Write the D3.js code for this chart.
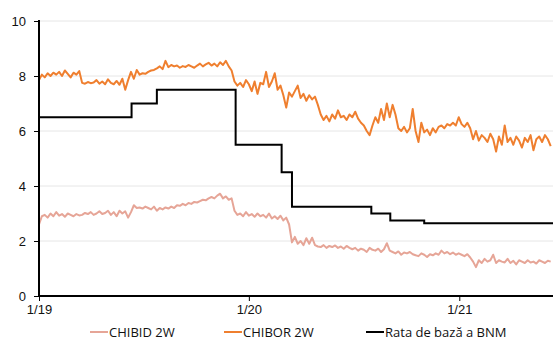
<!DOCTYPE html>
<html>
<head>
<meta charset="utf-8">
<script src="https://cdn.jsdelivr.net/npm/d3@7"></script>
<style>
  html, body { margin: 0; padding: 0; background: #fff; }
  svg { display: block; font-family: "Open Sans", "Noto Sans", sans-serif; }
</style>
</head>
<body>
<svg id="chart" width="553" height="341"></svg>
<script>
// ---------- DATA ----------
const seriesStart = "2019-01-01";   // first observation
const seriesStepDays = 5;            // observations every 5 days
const axisEnd = "2021-06-13";

// CHIBOR 2W (%)
const chibor = [
  7.85, 8.05, 7.95, 8.10, 8.00, 8.12, 8.05, 8.15, 8.00, 8.20, 8.08, 7.95, 8.12, 8.05, 8.18,           // 0-14
  7.75, 7.72, 7.78, 7.74, 7.76, 7.85, 7.72, 7.80, 7.70, 7.88, 7.75, 7.70, 7.82, 7.68, 7.90, 7.50,     // 15-30
  7.85, 8.15, 7.90, 8.22, 8.05, 8.10, 8.08, 8.15, 8.20, 8.22,                                         // 31-40
  8.28, 8.35, 8.25, 8.55, 8.32, 8.40, 8.35, 8.38, 8.30, 8.36, 8.33, 8.40, 8.35, 8.30, 8.38, 8.45,     // 41-56
  8.35, 8.42, 8.48, 8.38, 8.45, 8.35, 8.50, 8.40, 8.55, 8.35, 8.20,                                   // 57-67
  7.80, 7.65, 7.75, 7.60, 7.85, 7.70, 7.45, 7.80, 7.35, 7.75,                                         // 68-77
  7.70, 8.15, 7.60, 7.80, 8.10, 7.50, 7.65,                                                           // 78-84
  7.30, 6.85, 7.40, 7.25, 7.45, 7.65, 7.20,                                                           // 85-91
  7.35, 7.10, 7.30, 7.15, 7.25, 6.95,                                                                 // 92-97
  6.60, 6.40, 6.55, 6.35,                                                                             // 98-101
  6.60, 6.45, 6.75, 6.50, 6.55, 6.40, 6.60, 6.50, 6.70, 6.45,                                         // 102-111
  6.30, 6.20, 6.00, 5.85, 6.20,                                                                       // 112-116
  6.50, 6.30, 6.80, 6.40, 7.00, 6.50, 6.95, 6.60,                                                     // 117-124
  6.10, 6.00, 6.15, 5.95, 6.10, 6.80, 6.00,                                                           // 125-131
  5.60, 6.30, 5.95, 6.05, 5.85, 6.10, 5.95, 6.15,                                                     // 132-139
  6.20, 6.10, 6.25, 6.20, 6.30, 6.20, 6.50, 6.25, 6.15, 6.30, 6.10,                                   // 140-150
  5.70, 6.00, 5.65, 5.85, 5.75, 5.60, 5.90,                                                           // 151-157
  5.70, 5.25, 5.80, 5.50, 6.20, 5.60,                                                                 // 158-163
  5.75, 5.50, 5.80, 5.65, 5.40, 5.75, 5.60, 5.85, 5.30, 5.70, 5.80, 5.60, 5.85, 5.70, 5.45            // 164-178
];

// CHIBID 2W (%)
const chibid = [
  2.60, 2.90, 2.95, 2.85, 3.00, 2.90, 3.05, 2.92, 2.98, 2.88, 3.00, 2.95, 2.90, 2.98, 2.93, 2.95,     // 0-15
  3.02, 2.98, 3.05, 2.95, 3.00, 3.08, 2.98, 3.02, 3.10, 2.95, 3.05, 2.90, 3.10, 3.00, 3.08, 2.85, 3.05, // 16-32
  3.30, 3.20, 3.22, 3.18, 3.25, 3.20, 3.15, 3.25, 3.10, 3.20, 3.15, 3.22,                             // 33-44
  3.18, 3.25, 3.20, 3.30, 3.28, 3.35, 3.30, 3.38, 3.35, 3.42, 3.40, 3.45,                             // 45-56
  3.50, 3.48, 3.55, 3.60, 3.55, 3.65, 3.72,                                                           // 57-63
  3.55, 3.62, 3.50, 3.55,                                                                             // 64-67
  3.10, 2.95, 3.00, 2.90, 3.05, 2.92, 2.98, 2.88, 3.00, 2.90, 2.95, 2.85, 3.00, 2.82, 2.90, 2.80,     // 68-83
  2.92, 2.75, 2.85, 2.60,                                                                             // 84-87
  1.95, 2.15, 1.90, 2.00, 1.85, 2.10, 1.90, 2.12, 1.85,                                               // 88-96
  1.80, 1.78, 1.85, 1.75, 1.82, 1.78, 1.84, 1.75, 1.80, 1.72, 1.82, 1.75,                             // 97-108
  1.70, 1.75, 1.65, 1.72, 1.68, 1.60, 1.75, 1.68, 1.65, 1.72, 1.60, 1.70, 1.92, 1.65,                 // 109-122
  1.60, 1.55, 1.62, 1.50, 1.58, 1.55, 1.60, 1.52, 1.48,                                               // 123-131
  1.45, 1.55, 1.50, 1.42, 1.52, 1.48, 1.55, 1.50,                                                     // 132-139
  1.65, 1.55, 1.60, 1.52, 1.58, 1.50, 1.55, 1.50, 1.45, 1.52, 1.40,                                   // 140-150
  1.25, 1.05, 1.30, 1.20, 1.35, 1.25, 1.30, 1.50, 1.20, 1.30, 1.25, 1.22, 1.35, 1.20,                 // 151-164
  1.28, 1.15, 1.30, 1.25, 1.20, 1.30, 1.22, 1.25, 1.18, 1.30, 1.25, 1.20, 1.28, 1.25                  // 165-178
];

// BNM base rate (%) - change dates and new values
const rateDates  = ["2019-01-01", "2019-06-11", "2019-07-25", "2019-12-09", "2020-02-27", "2020-03-16", "2020-08-01", "2020-09-03", "2020-11-01", "2021-06-13"];
const rateValues = [6.5, 7.0, 7.5, 5.5, 4.5, 3.25, 3.0, 2.75, 2.65, 2.65];

const yTicks = [0, 2, 4, 6, 8, 10];
const xTickDates = ["2019-01-01", "2020-01-01", "2021-01-01"];
const legendLabels = ["CHIBID 2W", "CHIBOR 2W", "Rata de bază a BNM"];

// ---------- CHART ----------
const parse = d3.utcParse("%Y-%m-%d");
const start = parse(seriesStart);
const dateAt = i => d3.utcDay.offset(start, i * seriesStepDays);

const svg = d3.select("#chart");
const mLeft = 39, mRight = 553, mTop = 21, mBottom = 296;

const x = d3.scaleUtc().domain([start, parse(axisEnd)]).range([mLeft, mRight]);
const y = d3.scaleLinear().domain([0, 10]).range([mBottom, mTop]);

// gridlines
svg.append("g").selectAll("line").data(yTicks.filter(d => d > 0)).join("line")
  .attr("x1", mLeft).attr("x2", mRight)
  .attr("y1", d => y(d)).attr("y2", d => y(d))
  .attr("stroke", "#e6e6e6").attr("stroke-width", 1);

svg.append("clipPath").attr("id", "plot")
  .append("rect").attr("x", mLeft).attr("y", 0).attr("width", mRight - mLeft).attr("height", mBottom);

const line = d3.line().x((d, i) => x(dateAt(i))).y(d => y(d));

const colors = { chibid: "#e6a597", chibor: "#ef7f2f", rate: "#000000" };

const g = svg.append("g").attr("clip-path", "url(#plot)");
g.append("path").datum(chibid).attr("d", line)
  .attr("fill", "none").attr("stroke", colors.chibid).attr("stroke-width", 2).attr("stroke-linejoin", "round");
g.append("path").datum(chibor).attr("d", line)
  .attr("fill", "none").attr("stroke", colors.chibor).attr("stroke-width", 2).attr("stroke-linejoin", "round");

const rateData = rateDates.map((d, i) => ({ date: parse(d), v: rateValues[i] }));
g.append("path").datum(rateData)
  .attr("d", d3.line().curve(d3.curveStepAfter).x(d => x(d.date)).y(d => y(d.v)))
  .attr("fill", "none").attr("stroke", colors.rate).attr("stroke-width", 2);

// axes
const yAxis = svg.append("g").attr("transform", `translate(${mLeft},0)`)
  .call(d3.axisLeft(y).tickValues(yTicks).tickSize(5).tickPadding(8).tickFormat(d3.format("d")));
yAxis.select(".domain").remove();
yAxis.selectAll(".tick line").attr("stroke", "#000").attr("stroke-width", 1);
yAxis.selectAll("text").attr("font-size", 13).attr("fill", "#111");

const xAxis = svg.append("g").attr("transform", `translate(0,${mBottom})`)
  .call(d3.axisBottom(x).tickValues(xTickDates.map(parse)).tickSize(5).tickPadding(4)
    .tickFormat(d3.utcFormat("%-m/%y")));
xAxis.select(".domain").remove();
xAxis.selectAll(".tick line").attr("stroke", "#000").attr("stroke-width", 1);
xAxis.selectAll("text").attr("font-size", 13).attr("fill", "#111");

svg.append("line").attr("x1", mLeft).attr("x2", mLeft).attr("y1", mTop - 1).attr("y2", mBottom + 1)
  .attr("stroke", "#000").attr("stroke-width", 2);
svg.append("line").attr("x1", mLeft - 1).attr("x2", mRight).attr("y1", mBottom).attr("y2", mBottom)
  .attr("stroke", "#000").attr("stroke-width", 2);

// legend
const legendPos = [90, 224, 366];
const legendColors = [colors.chibid, colors.chibor, colors.rate];
const lg = svg.append("g").selectAll("g").data(legendLabels).join("g")
  .attr("transform", (d, i) => `translate(${legendPos[i]},332)`);
lg.append("line").attr("x1", 0).attr("x2", 18).attr("y1", 0).attr("y2", 0)
  .attr("stroke", (d, i) => legendColors[i]).attr("stroke-width", 2);
lg.append("text").attr("x", 19).attr("y", 0).attr("dy", "0.35em")
  .attr("font-size", 13).attr("fill", "#111").text(d => d);
</script>
</body>
</html>
